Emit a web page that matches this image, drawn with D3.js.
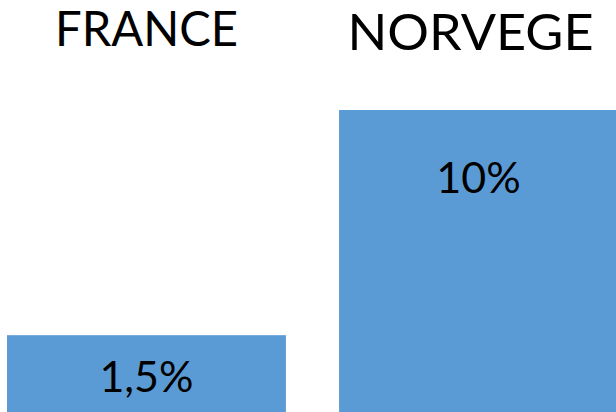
<!DOCTYPE html>
<html>
<head>
<meta charset="utf-8">
<script src="https://cdn.jsdelivr.net/npm/d3@7"></script>
<style>
  html, body { margin: 0; padding: 0; background: #fff; }
  svg { display: block; }
</style>
</head>
<body>
<svg id="chart"></svg>
<script>
// data
const countries = ["FRANCE", "NORVEGE"];
const values = [1.5, 10];
const valueLabels = ["1,5%", "10%"];

const width = 616;
const height = 412;

const svg = d3.select('#chart')
    .attr('width', width)
    .attr('height', height);

// x: one band per country
const x = d3.scaleBand()
    .domain(countries)
    .range([7, 618])
    .paddingInner(0.16)
    .paddingOuter(0);

// y: the original picture is not drawn from zero, bars start below it
const y = d3.scaleLinear()
    .domain([-1.4, 10])
    .range([height, 110]);

const barColor = "#5b9bd5";
const font = "Lato, 'Open Sans', sans-serif";

// title layout tweaks (the source slide places them by hand)
const titleShift = [0, -8];
const titleBase = [46, 50];
const titleSize = [48, 51];
const titleWidth = [183, 246];

// bars
svg.selectAll('rect.bar')
    .data(countries)
    .enter()
    .append('rect')
    .attr('class', 'bar')
    .attr('x', function (d) { return x(d); })
    .attr('y', function (d, i) { return y(values[i]); })
    .attr('width', x.bandwidth())
    .attr('height', function (d, i) { return y(-1.4) - y(values[i]); })
    .attr('fill', barColor);

// country titles on top
svg.selectAll('text.title')
    .data(countries)
    .enter()
    .append('text')
    .attr('class', 'title')
    .attr('x', function (d, i) { return x(d) + x.bandwidth() / 2 + titleShift[i]; })
    .attr('y', function (d, i) { return titleBase[i]; })
    .attr('text-anchor', 'middle')
    .attr('font-family', font)
    .attr('font-size', function (d, i) { return titleSize[i]; })
    .attr('textLength', function (d, i) { return titleWidth[i]; })
    .attr('lengthAdjust', 'spacingAndGlyphs')
    .attr('fill', '#000')
    .text(function (d) { return d; });

// value labels inside bars
svg.selectAll('text.value')
    .data(countries)
    .enter()
    .append('text')
    .attr('class', 'value')
    .attr('x', function (d) { return x(d) + x.bandwidth() / 2; })
    .attr('y', function (d, i) {
        const top = y(values[i]);
        return Math.min((top + height) / 2 + 18, top + 83);
    })
    .attr('text-anchor', 'middle')
    .attr('font-family', font)
    .attr('font-size', 43)
    .attr('fill', '#000')
    .text(function (d, i) { return valueLabels[i]; });
</script>
</body>
</html>
